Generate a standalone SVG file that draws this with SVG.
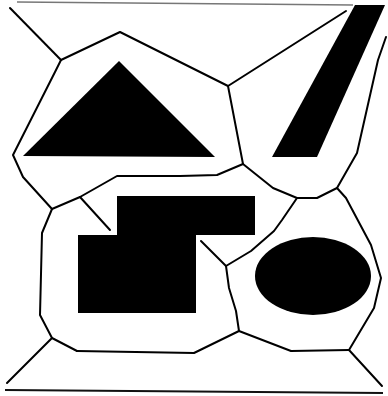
<svg xmlns="http://www.w3.org/2000/svg" width="388" height="396" viewBox="0 0 388 396">
<style>
.edge{fill:none;stroke:#000;stroke-width:2;stroke-linejoin:round;stroke-linecap:round}
.shape{fill:#000;stroke:none}
</style>
<rect width="388" height="396" fill="#fff"/>
<g id="frame">
<path d="M17,2 L353,5" fill="none" stroke="#777" stroke-width="1.5"/>
<path d="M5,390 L383,393" fill="none" stroke="#111" stroke-width="2"/>
</g>
<g id="triangle"><polygon class="shape" points="119,61 23,156 215,157"/></g>
<g id="bar"><polygon class="shape" points="355,5 385,5 317,157 272,157"/></g>
<g id="staircase"><polygon class="shape" points="117,196 255,196 255,235 196,235 196,313 78,313 78,235 117,235"/></g>
<g id="ellipse"><ellipse class="shape" cx="313" cy="276" rx="58" ry="39"/></g>
<g id="connectors">
<path class="edge" d="M10,8 L61,60"/>
<path class="edge" d="M61,60 L120,32 L194,69 L228,86"/>
<path class="edge" d="M228,86 L346,11"/>
<path class="edge" d="M61,60 L55,72 L13,155 L23,177 L52,209"/>
<path class="edge" d="M52,209 L80,197 L117,176 L180,176 L217,175 L243,164"/>
<path class="edge" d="M80,197 L110,230"/>
<path class="edge" d="M228,86 L243,164"/>
<path class="edge" d="M243,164 L263,180 L273,188 L297,198"/>
<path class="edge" d="M297,198 L282,220 L274,231 L251,251 L226,266"/>
<path class="edge" d="M297,198 L317,198 L337,188"/>
<path class="edge" d="M386,37 L378,60 L357,153 L337,188"/>
<path class="edge" d="M337,188 L346,198 L371,245 L381,278 L374,308 L349,350"/>
<path class="edge" d="M349,350 L382,386"/>
<path class="edge" d="M349,350 L291,351 L239,331 L194,353 L77,351"/>
<path class="edge" d="M226,266 L229,288 L236,311 L239,331"/>
<path class="edge" d="M226,266 L201,241"/>
<path class="edge" d="M52,209 L42,233 L40,315 L52,338 L77,351"/>
<path class="edge" d="M52,338 L7,383"/>
</g>
</svg>
